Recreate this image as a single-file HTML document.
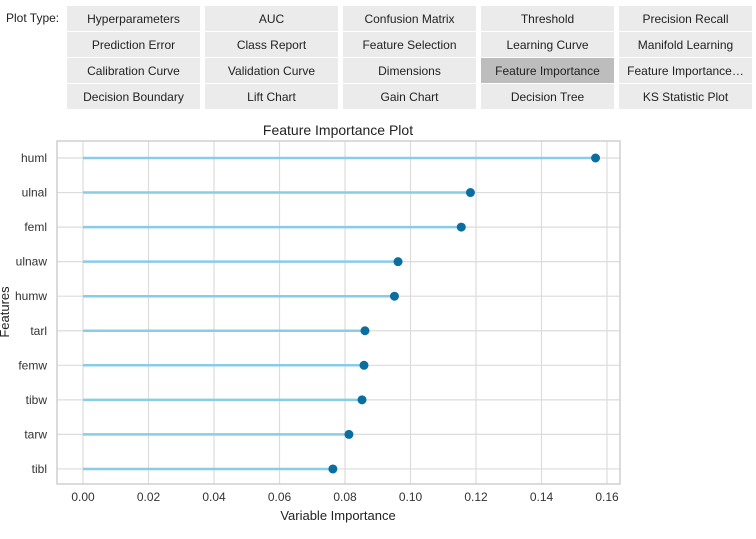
<!DOCTYPE html>
<html><head><meta charset="utf-8"><style>
body{margin:0;width:756px;height:539px;background:#fff;font-family:"Liberation Sans",sans-serif;overflow:hidden;position:relative}
.lbl{position:absolute;left:6px;top:11px;font-size:12px;color:#222}
.btn{position:absolute;width:133px;height:25px;background:#ebebeb;font-size:12px;color:#222;display:flex;align-items:center;justify-content:center;white-space:nowrap;overflow:hidden}
.btn.sel{background:#bdbdbd}
</style></head><body>
<div class="lbl">Plot Type:</div>
<div id="btns"></div>
<svg id="chart" width="756" height="539" style="position:absolute;left:0;top:0"></svg>
<script>
const buttons=["Hyperparameters","AUC","Confusion Matrix","Threshold","Precision Recall","Prediction Error","Class Report","Feature Selection","Learning Curve","Manifold Learning","Calibration Curve","Validation Curve","Dimensions","Feature Importance","Feature Importance…","Decision Boundary","Lift Chart","Gain Chart","Decision Tree","KS Statistic Plot"];
const bc=document.getElementById('btns');
buttons.forEach((t,i)=>{const d=document.createElement('div');d.className='btn'+(i==13?' sel':'');
d.style.left=(67+(i%5)*138)+'px';d.style.top=(6+Math.floor(i/5)*26)+'px';d.textContent=t;


bc.appendChild(d);});

const features=["huml","ulnal","feml","ulnaw","humw","tarl","femw","tibw","tarw","tibl"];
const importance=[0.1565,0.1183,0.1155,0.0962,0.0951,0.0861,0.0858,0.0852,0.0812,0.0763];
const xTicks=[0,0.02,0.04,0.06,0.08,0.10,0.12,0.14,0.16];
const xTickLabels=["0.00","0.02","0.04","0.06","0.08","0.10","0.12","0.14","0.16"];
const NS="http://www.w3.org/2000/svg";
const svg=document.getElementById('chart');
const L=57,R=620,T=141,B=484;
const x=v=>83+v*(524/0.16);
const y=i=>158+i*34.55;
function el(tag,a,name){const e=document.createElementNS(NS,tag);for(const k in a)e.setAttribute(k,a[k]);


svg.appendChild(e);return e;}
xTicks.forEach((v,i)=>{el('line',{x1:x(v),x2:x(v),y1:T,y2:B,stroke:'#dcdcdc','stroke-width':1.2},'x-gridline');
const t=el('text',{x:x(v),y:B+17,'font-size':12,fill:'#333','text-anchor':'middle'},'x-tick-label');t.textContent=xTickLabels[i];});
features.forEach((f,i)=>{el('line',{x1:L,x2:R,y1:y(i),y2:y(i),stroke:'#dcdcdc','stroke-width':1.2},'y-gridline');
const t=el('text',{x:L-10,y:y(i)+4,'font-size':12,fill:'#333','text-anchor':'end'},'y-tick-label');t.textContent=f;});
el('rect',{x:L,y:T,width:R-L,height:B-T,fill:'none',stroke:'#cfcfcf','stroke-width':1.5},'plot-frame');
features.forEach((f,i)=>{el('line',{x1:x(0),x2:x(importance[i]),y1:y(i),y2:y(i),stroke:'#89cce9','stroke-width':2.5},'stem-'+f);
el('circle',{cx:x(importance[i]),cy:y(i),r:4.5,fill:'#0a6fa0'},'point-'+f);});
let t=el('text',{x:338,y:135,'font-size':14,fill:'#222','text-anchor':'middle'},'chart-title');t.textContent='Feature Importance Plot';
t=el('text',{x:338,y:520,'font-size':13,fill:'#222','text-anchor':'middle'},'x-axis-title');t.textContent='Variable Importance';
t=el('text',{x:0,y:0,'font-size':13,fill:'#222','text-anchor':'middle',transform:'translate(9,312) rotate(-90)'},'y-axis-title');t.textContent='Features';
</script>
</body></html>
